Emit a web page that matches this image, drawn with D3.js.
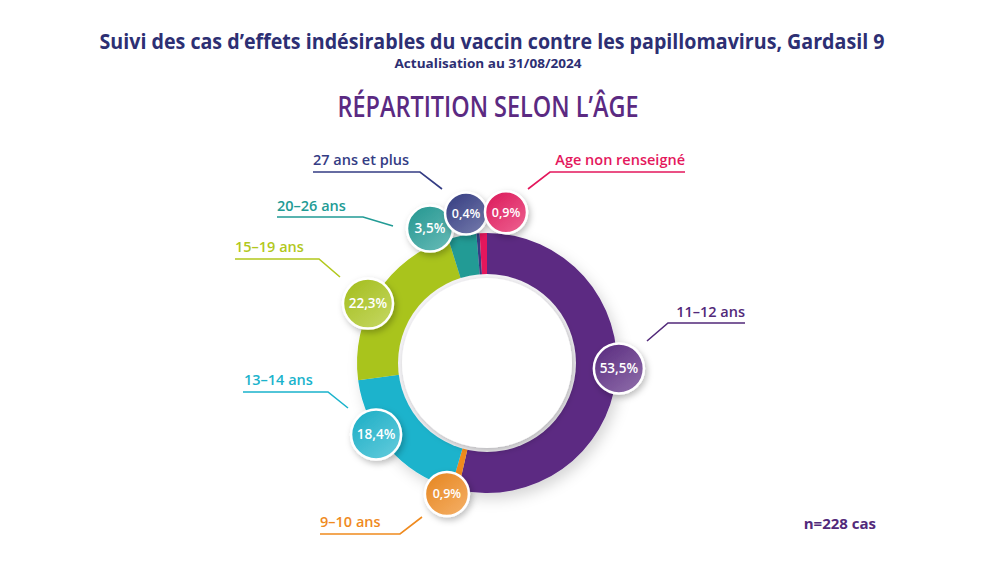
<html lang="fr">
<head>
<meta charset="UTF-8">
<title>Gardasil 9 - répartition selon l'âge</title>
<style>
  body { margin: 0; background: #fff; }
  text { font-family: "Open Sans", "Noto Sans", sans-serif; }
</style>
</head>
<body>
<script src="https://d3js.org/d3.v7.min.js"></script>
<script>
// data
const categories = ["11-12 ans", "9-10 ans", "13-14 ans", "15-19 ans", "20-26 ans", "27 ans et plus", "Age non renseigné"]
const values = [53.5, 0.9, 18.4, 22.3, 3.5, 0.4, 0.9]
const colors = ["#5b2a82", "#ef8a1e", "#1ab3cc", "#a9c41a", "#229b95", "#343c84", "#e4175c"]
const labelColors = ["#52297a", "#ef8a1e", "#1ab3cc", "#b2c81c", "#229b95", "#343c84", "#e4175c"]
const total = 228

// layout of bubbles (angle nudge in degrees, distance from centre, radius)
const bubbleNudge = [-4, 2.6, 8, -6, -12, -4, 8.8]
const bubbleDist = [132, 137, 132, 133, 146, 151, 152]
const bubbleR = [25, 22, 25, 25, 23, 21, 21]
// layout of the labels: text x, baseline, anchor, leader line points
const labelPos = [
  {x: 745, y: 317, anchor: "end", line: [[647, 341], [668, 323], [745, 323]]},
  {x: 320, y: 527, anchor: "start", line: [[320, 534], [400, 534], [422, 517]]},
  {x: 244, y: 385, anchor: "start", line: [[243, 392], [328, 392], [348, 408]]},
  {x: 235, y: 252, anchor: "start", line: [[235, 259], [319, 259], [340, 277]]},
  {x: 277, y: 211, anchor: "start", line: [[277, 217], [363, 217], [393, 226]]},
  {x: 313, y: 165, anchor: "start", line: [[313, 172], [420, 172], [442, 189]]},
  {x: 685, y: 165, anchor: "end", line: [[528, 189], [550, 172], [685, 172]]}
]

const width = 1000
const height = 563
const cx = 487, cy = 363
const outerR = 130, innerR = 85

let svg = d3.select("body").append("svg")
  .attr("width", width)
  .attr("height", height)

let defs = svg.append("defs")
let f1 = defs.append("filter").attr("id", "shadow")
  .attr("x", "-30%").attr("y", "-30%").attr("width", "160%").attr("height", "160%")
f1.append("feDropShadow").attr("dx", 2).attr("dy", 3).attr("stdDeviation", 3)
  .attr("flood-color", "#000").attr("flood-opacity", 0.25)
let f2 = defs.append("filter").attr("id", "softshadow")
  .attr("x", "-20%").attr("y", "-20%").attr("width", "140%").attr("height", "140%")
f2.append("feDropShadow").attr("dx", 4).attr("dy", 6).attr("stdDeviation", 7)
  .attr("flood-color", "#000").attr("flood-opacity", 0.16)

let data = categories.map((c, i) => ({cat: c, value: values[i], i: i}))

colors.forEach((c, i) => {
  let g = defs.append("linearGradient").attr("id", "grad" + i)
    .attr("x1", "0%").attr("y1", "0%").attr("x2", "80%").attr("y2", "100%")
  g.append("stop").attr("offset", "0%").attr("stop-color", d3.interpolateRgb(c, "#000")(0.04))
  g.append("stop").attr("offset", "100%").attr("stop-color", d3.interpolateRgb(c, "#fff")(0.3))
})

// titles
svg.append("text")
  .attr("x", 492).attr("y", 49)
  .attr("text-anchor", "middle")
  .attr("font-size", 22).attr("font-weight", 700)
  .attr("fill", "#2d2f73")
  .attr("textLength", 785).attr("lengthAdjust", "spacingAndGlyphs")
  .text("Suivi des cas d’effets indésirables du vaccin contre les papillomavirus, Gardasil 9")

svg.append("text")
  .attr("x", 488).attr("y", 68)
  .attr("text-anchor", "middle")
  .attr("font-size", 13).attr("font-weight", 700)
  .attr("fill", "#2d2f73")
  .attr("textLength", 187).attr("lengthAdjust", "spacingAndGlyphs")
  .text("Actualisation au 31/08/2024")

svg.append("text")
  .attr("x", 488).attr("y", 117)
  .attr("text-anchor", "middle")
  .attr("font-size", 28).attr("font-weight", 600)
  .attr("fill", "#5b2a82")
  .attr("textLength", 301).attr("lengthAdjust", "spacingAndGlyphs")
  .text("RÉPARTITION SELON L’ÂGE")

// donut
let pie = d3.pie().sort(null).value(d => d.value)
let arcs = pie(data)
let arc = d3.arc().innerRadius(innerR).outerRadius(outerR)

let g = svg.append("g").attr("transform", "translate(" + cx + "," + cy + ")")

g.append("g").attr("filter", "url(#softshadow)")
  .selectAll("path")
  .data(arcs)
  .enter()
  .append("path")
  .attr("d", arc)
  .attr("fill", d => colors[d.data.i])

g.append("circle").attr("r", innerR + 4).attr("fill", "#f4f3f6")
g.append("circle").attr("r", innerR).attr("fill", "#fff").attr("filter", "url(#shadow)")

// leader lines + labels
let line = d3.line()
svg.selectAll("path.leader")
  .data(data)
  .enter()
  .append("path")
  .attr("class", "leader")
  .attr("d", d => line(labelPos[d.i].line))
  .attr("fill", "none")
  .attr("stroke", d => labelColors[d.i])
  .attr("stroke-width", 1.6)

svg.selectAll("text.cat")
  .data(data)
  .enter()
  .append("text")
  .attr("class", "cat")
  .attr("x", d => labelPos[d.i].x)
  .attr("y", d => labelPos[d.i].y)
  .attr("text-anchor", d => labelPos[d.i].anchor)
  .attr("font-size", 14.5).attr("font-weight", 600)
  .attr("fill", d => labelColors[d.i])
  .text(d => d.cat.replace("-", "–"))

// bubbles
let fmt = v => String(v).replace(".", ",") + "%"
let bubbles = g.selectAll("g.bubble")
  .data(arcs)
  .enter()
  .append("g")
  .attr("class", "bubble")
  .attr("transform", d => {
    let a = (d.startAngle + d.endAngle) / 2 + bubbleNudge[d.data.i] * Math.PI / 180
    let r = bubbleDist[d.data.i]
    return "translate(" + (r * Math.sin(a)) + "," + (-r * Math.cos(a)) + ")"
  })

bubbles.append("circle")
  .attr("r", d => bubbleR[d.data.i])
  .attr("fill", d => "url(#grad" + d.data.i + ")")
  .attr("stroke", "#fff")
  .attr("stroke-width", 2.5)
  .attr("filter", "url(#shadow)")

bubbles.append("text")
  .attr("text-anchor", "middle")
  .attr("dy", "0.35em")
  .attr("font-size", d => bubbleR[d.data.i] > 22 ? 13.5 : 12.5)
  .attr("font-weight", 600)
  .attr("fill", "#fff")
  .text(d => fmt(d.data.value))

svg.append("text")
  .attr("x", 876).attr("y", 529)
  .attr("text-anchor", "end")
  .attr("font-size", 15).attr("font-weight", 700)
  .attr("fill", "#52297a")
  .text("n=" + total + " cas")
</script>
</body>
</html>
